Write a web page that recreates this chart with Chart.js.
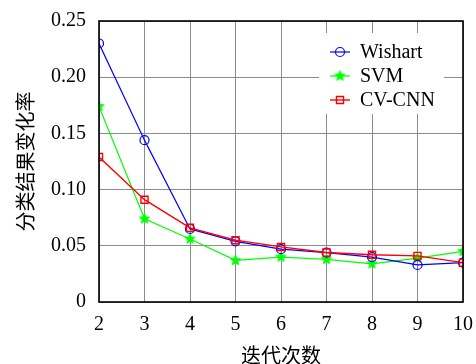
<!DOCTYPE html>
<html>
<head>
<meta charset="utf-8">
<script src="https://cdn.jsdelivr.net/npm/chart.js@4/dist/chart.umd.min.js"></script>
<style>
html, body { margin: 0; padding: 0; background: #fff; }
#wrap { width: 476px; height: 364px; }
</style>
</head>
<body>
<div id="wrap"><canvas id="grafico" width="476" height="364"></canvas></div>
<script>
// values
const iteracoes = [2, 3, 4, 5, 6, 7, 8, 9, 10];
const wishart = [0.230, 0.144, 0.065, 0.054, 0.047, 0.044, 0.040, 0.033, 0.035];
const svm = [0.174, 0.074, 0.056, 0.037, 0.040, 0.038, 0.034, 0.039, 0.045];
const cvcnn = [0.129, 0.091, 0.066, 0.055, 0.049, 0.044, 0.042, 0.041, 0.035];
const yTicks = [0, 0.05, 0.10, 0.15, 0.20, 0.25];

const serif = "'Liberation Serif', 'DejaVu Serif', serif";
const cjk = "'Noto Sans CJK SC', sans-serif";

// filled star marker for SVM
function makeStar(r, color) {
    const c = document.createElement('canvas');
    const s = Math.ceil(r * 2) + 2;
    c.width = s;
    c.height = s;
    const g = c.getContext('2d');
    g.beginPath();
    for (let i = 0; i < 10; i++) {
        const rad = i % 2 === 0 ? r : r * 0.45;
        const a = -Math.PI / 2 + i * Math.PI / 5;
        const px = s / 2 + rad * Math.cos(a);
        const py = s / 2 + rad * Math.sin(a);
        if (i === 0) g.moveTo(px, py); else g.lineTo(px, py);
    }
    g.closePath();
    g.fillStyle = color;
    g.fill();
    g.strokeStyle = color;
    g.lineWidth = 0.8;
    g.stroke();
    return c;
}
const star = makeStar(5.5, '#00ff00');

const toPts = arr => arr.map((v, i) => ({ x: iteracoes[i], y: v }));

const dados = {
    datasets: [
        {
            label: 'Wishart',
            data: toPts(wishart),
            borderColor: '#0000ff',
            backgroundColor: 'rgba(0,0,0,0)',
            borderWidth: 1.2,
            pointStyle: 'circle',
            pointRadius: 4.5,
            pointBorderWidth: 1.2,
            order: 2
        },
        {
            label: 'SVM',
            data: toPts(svm),
            borderColor: '#00ff00',
            backgroundColor: '#00ff00',
            borderWidth: 1.2,
            pointStyle: star,
            pointRadius: 5.5,
            order: 3
        },
        {
            label: 'CV-CNN',
            data: toPts(cvcnn),
            borderColor: '#ff0000',
            backgroundColor: 'rgba(0,0,0,0)',
            borderWidth: 1.4,
            pointStyle: 'rect',
            pointRadius: 5,
            pointBorderWidth: 1.4,
            order: 1
        }
    ]
};

// black frame round the plot
const moldura = {
    id: 'moldura',
    afterDraw(chart) {
        const { ctx, chartArea: a } = chart;
        ctx.save();
        ctx.strokeStyle = '#000';
        ctx.lineWidth = 1.6;
        ctx.strokeRect(a.left, a.top, a.right - a.left, a.bottom - a.top);
        ctx.restore();
    }
};

// legend inside the plot, top right, line + marker
const legenda = {
    id: 'legenda',
    afterDatasetsDraw(chart) {
        const { ctx, chartArea: a } = chart;
        const x0 = a.right - 144;
        const y0 = a.top + 12;
        ctx.save();
        ctx.fillStyle = '#fff';
        ctx.fillRect(x0, y0, 125, 81);
        chart.data.datasets.forEach((ds, i) => {
            const cy = y0 + 19 + i * 24;
            ctx.strokeStyle = ds.borderColor;
            ctx.lineWidth = ds.borderWidth;
            ctx.beginPath();
            ctx.moveTo(x0 + 11, cy);
            ctx.lineTo(x0 + 31, cy);
            ctx.stroke();
            ctx.fillStyle = ds.backgroundColor;
            ctx.lineWidth = ds.pointBorderWidth || 1;
            Chart.helpers.drawPoint(ctx, {
                pointStyle: ds.pointStyle,
                radius: ds.pointRadius,
                borderWidth: ds.pointBorderWidth || 1,
                rotation: 0
            }, x0 + 21, cy);
            ctx.fillStyle = '#000';
            ctx.font = '20px ' + serif;
            ctx.textBaseline = 'middle';
            ctx.textAlign = 'left';
            ctx.fillText(ds.label, x0 + 41, cy + 1);
        });
        ctx.restore();
    }
};

const config = {
    type: 'line',
    data: dados,
    options: {
        responsive: false,
        animation: false,
        devicePixelRatio: 1,
        layout: { padding: { left: 0, top: 21, right: 13, bottom: 0 } },
        plugins: {
            legend: { display: false },
            tooltip: { enabled: false }
        },
        elements: { line: { tension: 0 } },
        scales: {
            x: {
                type: 'linear',
                min: 2,
                max: 10,
                afterBuildTicks: s => { s.ticks = iteracoes.map(v => ({ value: v })); },
                afterFit: s => { s.height = 62; s.paddingLeft = 0; s.paddingRight = 0; },
                grid: { color: '#8c8c8c', lineWidth: 1, drawTicks: false },
                border: { display: false },
                ticks: {
                    color: '#000',
                    padding: 11,
                    maxRotation: 0,
                    font: { family: serif, size: 20 }
                },
                title: {
                    display: true,
                    text: '迭代次数',
                    color: '#000',
                    font: { family: cjk, size: 20, lineHeight: 1 },
                    padding: { top: 0, bottom: -1 }
                }
            },
            y: {
                min: 0,
                max: 0.25,
                afterBuildTicks: s => { s.ticks = yTicks.map(v => ({ value: v })); },
                afterFit: s => { s.width = 99; s.paddingTop = 0; s.paddingBottom = 0; },
                grid: { color: '#8c8c8c', lineWidth: 1, drawTicks: false },
                border: { display: false },
                ticks: {
                    color: '#000',
                    padding: 13,
                    font: { family: serif, size: 20 },
                    callback: v => v === 0 ? '0' : v.toFixed(2)
                },
                title: {
                    display: true,
                    text: '分类结果变化率',
                    color: '#000',
                    font: { family: cjk, size: 20, lineHeight: 1 },
                    padding: { top: 15, bottom: 0 }
                }
            }
        }
    },
    plugins: [legenda, moldura]
};

new Chart(document.getElementById('grafico'), config);
</script>
</body>
</html>
